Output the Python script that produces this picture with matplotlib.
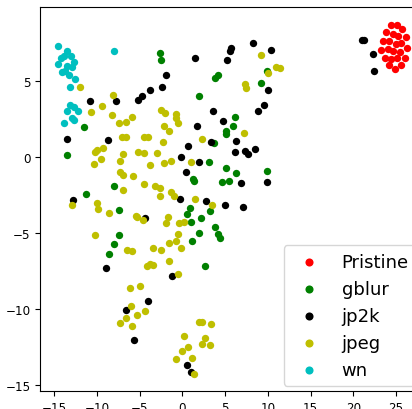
import matplotlib
matplotlib.use("Agg")
import matplotlib.pyplot as plt

labels = ["Pristine", "gblur", "jp2k", "jpeg", "wn"]
colors = ["r", "g", "k", "y", "c"]

pristine_x = [24.41, 25.08, 25.70, 23.79, 24.65, 25.28, 26.14, 23.52, 24.23, 24.96, 25.59, 23.24,
              24.06, 24.65, 25.47, 26.29, 23.71, 24.46, 25.16, 26.05, 24.15, 24.88, 25.59]
pristine_y = [8.69, 8.73, 8.45, 8.23, 8.14, 8.00, 7.90, 7.66, 7.68, 7.46, 7.50, 7.08,
              7.13, 7.02, 6.95, 7.17, 6.56, 6.45, 6.56, 6.56, 6.06, 5.81, 6.06]

gblur_x = [-11.49, -2.63, -2.47, 3.77, 4.16, 1.93, 9.19, 9.89, 6.15, 5.88, 5.06, 5.14, 3.74, 3.07,
           5.06, 6.31, 9.94, 1.23, 1.39, 4.63, 5.44, 0.88, 0.49, 3.27, 2.17, 1.00, 3.77, 1.93,
           4.20, 4.39, 1.16, 2.68, -13.44, -11.30, -7.94, -7.47, -7.47, -8.02, -8.61]
gblur_y = [1.97, 6.85, 6.38, 5.22, 5.40, 4.03, 4.91, 5.70, 2.65, 2.08, 1.71, 1.55, 0.94, -0.29,
           -0.71, -1.04, -0.89, -1.45, -1.58, -1.61, -1.58, -3.34, -3.74, -3.54, -4.02, -4.28, -4.57, -4.97,
           -5.07, -5.32, -5.54, -7.18, 0.15, -2.44, -1.89, -3.45, -5.14, -5.71, -6.39]

jp2k_x = [-10.75, -7.74, -5.16, -4.70, -13.52, -8.72, 1.46, 5.53, 5.64, 5.21, 8.26, 10.33, -1.89,
          -2.40, -3.84, 3.62, 4.71, 1.74, 9.54, 8.81, 9.98, 6.26, 21.25, 21.07, 22.31, 22.47, 0.69,
          3.38, -0.21, 1.90, 6.15, 7.37, 7.63, 8.54, 0.41, 6.90, 9.89, -0.29, 2.72, 5.02, 7.13,
          -4.34, -12.74, -8.88, -6.65, -5.63, -1.18, -4.07, 0.57, 0.96]
jp2k_y = [3.68, 3.70, 3.80, 4.01, 1.23, 1.17, 6.54, 7.02, 7.19, 6.40, 7.50, 7.08, 5.44,
          4.61, 4.41, 3.03, 2.39, 2.04, 3.46, 3.03, 4.45, 1.09, 7.70, 7.70, 6.80, 5.66, 0.76,
          1.02, 0.04, -0.33, 0.35, 0.43, 0.23, 0.52, -0.95, -1.68, -1.65, -2.73, -2.88, -3.16, -3.26,
          -3.98, -2.80, -7.31, -10.08, -12.02, -7.80, -9.49, -13.66, -14.12]

jpeg_x = [-11.96, -8.17, -9.43, -10.67, -8.26, -7.39, -6.65, -5.85, -7.08, -6.65, -2.55, -2.05,
          -0.80, -0.71, -0.48, -2.12, -1.58, -4.51, -4.04, 2.28, 7.25, 9.24, 10.01, 10.95, 11.42,
          7.37, 7.48, -10.25, -9.97, -9.34, -7.00, -5.16, -9.54, -10.32, -7.24, -7.27, -6.92, -5.80,
          -6.89, -9.97, -9.85, -12.89, -8.56, -5.40, -5.28, -10.20, -6.53, -5.91, -2.32, -4.51,
          -2.99, -3.84, -2.12, -1.38, 1.00, -4.51, -3.17, -2.67, -2.59, -1.30, -0.95, 1.43, 3.45,
          -4.63, -1.65, -1.93, -0.41, 0.18, -0.48, -0.71, -1.53, -3.41, -2.47, -0.21, -1.53, -4.19,
          -3.81, -3.41, -6.15, -4.98, -5.98, -5.30, -6.65, -7.32, -5.87, -0.48, -4.34, 1.93, 2.25,
          3.38, 0.22, 2.60, 0.64, 2.28, 3.22, -0.09, -0.71, 1.16, 1.31]
jpeg_y = [4.61, 4.12, 3.36, 2.98, 2.78, 2.24, 2.32, 2.63, 1.33, 1.33, 3.09, 2.91,
          2.87, 2.60, 2.24, 2.08, 1.74, 1.33, 1.33, 1.22, 1.58, 6.71, 5.55, 5.96, 5.88,
          4.80, 4.58, 0.33, 0.46, 0.61, 0.23, 0.37, -0.13, -0.42, -0.27, -0.99, -1.19, -1.23,
          -2.18, -3.03, -3.41, -3.12, -3.69, -3.85, -3.93, -5.12, -6.11, -6.15, 1.00, 0.30,
          0.30, -0.53, -0.40, -0.23, -0.29, -1.78, -1.87, -2.03, -2.53, -2.27, -2.53, -2.73, -3.16,
          -4.11, -3.93, -4.35, -4.35, -4.24, -5.07, -5.54, -5.67, -5.98, -6.09, -5.96, -6.81, -7.18,
          -7.03, -7.12, -8.61, -8.50, -9.82, -10.38, -10.59, -10.94, -11.09, -7.71, -10.11, -10.83, -10.83,
          -11.00, -11.77, -11.90, -12.52, -12.28, -12.38, -12.76, -13.31, -13.22, -14.25]

wn_x = [-14.58, -13.48, -13.79, -14.18, -13.06, -14.50, -13.48, -12.94, -12.62, -14.03, -13.71,
        -13.24, -12.54, -13.17, -8.02, -13.13, -12.62, -12.24, -13.48, -12.89, -12.71, -13.79]
wn_y = [7.33, 7.02, 6.69, 6.54, 6.69, 6.14, 6.01, 5.96, 6.27, 5.63, 5.70,
        5.44, 5.15, 4.61, 7.02, 3.44, 3.29, 3.05, 3.03, 2.57, 2.47, 2.28]

xs = [pristine_x, gblur_x, jp2k_x, jpeg_x, wn_x]
ys = [pristine_y, gblur_y, jp2k_y, jpeg_y, wn_y]

fig = plt.figure(figsize=(4.12, 4.10), dpi=100)
W, H = 412, 410
left, right, top, bottom = 40.3, 424.5, 8.3, 392.0
ax = fig.add_axes([left / W, (H - bottom) / H, (right - left) / W, (bottom - top) / H])

for x, y, c, lab in zip(xs, ys, colors, labels):
    ax.scatter(x, y, c=c, s=28, label=lab, linewidths=0)

ax.set_xlim(-16.62, 28.33)
ax.set_ylim(-15.39, 9.875)
ax.set_xticks([-15, -10, -5, 0, 5, 10, 15, 20, 25])
ax.set_yticks([-15, -10, -5, 0, 5])
ax.tick_params(labelsize=8.6)

ax.legend(loc="lower right", fontsize=13.0, markerscale=1.1,
          bbox_to_anchor=(416.0 / W, (H - 387.0) / H), bbox_transform=fig.transFigure,
          borderaxespad=0)

fig.savefig("out.png", dpi=100)
